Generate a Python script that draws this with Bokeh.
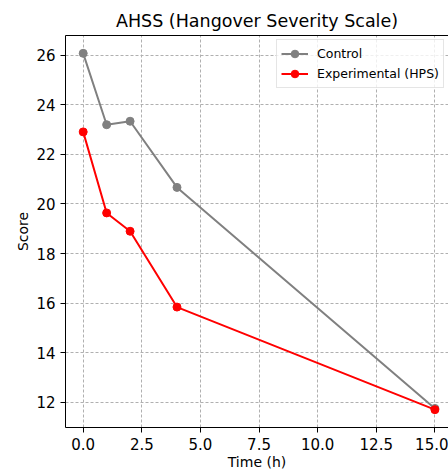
from bokeh.plotting import figure
from bokeh.models import Range1d, FixedTicker, LinearAxis, NumeralTickFormatter, Legend, LegendItem
from bokeh.embed import file_html
from bokeh.resources import INLINE

time_h = [0, 1, 2, 4, 15]
control = [26.08, 23.2, 23.34, 20.67, 11.75]
experimental = [22.91, 19.64, 18.9, 15.84, 11.7]
x_ticks = [0, 2.5, 5, 7.5, 10, 12.5, 15]
y_ticks = [12, 14, 16, 18, 20, 22, 24, 26]

FONT = "DejaVu Sans"

p = figure(width=448, height=472, output_backend="svg", toolbar_location=None,
           x_range=Range1d(-0.755, 15.58), y_range=Range1d(10.98, 26.8),
           min_border_left=65, min_border_right=0, min_border_bottom=0, min_border_top=35,
           title="AHSS (Hangover Severity Scale)")
p.outline_line_color = None
p.background_fill_color = "white"
p.border_fill_color = "white"

p.title.text_font = FONT
p.title.text_font_size = "17.5px"
p.title.text_font_style = "normal"
p.title.text_color = "black"
p.title.align = "center"

xax = p.below[0]
yax = p.left[0]

for ax in (xax, yax):
    ax.major_label_text_font = FONT
    ax.major_label_text_font_size = "15px"
    ax.major_label_text_color = "black"
    ax.axis_label_text_font = FONT
    ax.axis_label_text_font_size = "14px"
    ax.axis_label_text_font_style = "normal"
    ax.axis_label_text_color = "black"
    ax.axis_line_color = "black"
    ax.axis_line_width = 1
    ax.major_tick_line_color = "black"
    ax.major_tick_out = 5
    ax.major_tick_in = 0
    ax.minor_tick_line_color = None
    ax.major_label_standoff = 5

xax.ticker = FixedTicker(ticks=x_ticks)
xax.formatter = NumeralTickFormatter(format="0.0")
xax.axis_label = "Time (h)"
xax.major_label_standoff = 5
xax.axis_label_standoff = 1
yax.ticker = FixedTicker(ticks=y_ticks)
yax.axis_label = "Score"
yax.axis_label_standoff = 2

top_axis = LinearAxis(ticker=FixedTicker(ticks=[]), major_label_text_font_size="0px",
                      major_tick_line_color=None, minor_tick_line_color=None,
                      axis_line_color="black", axis_line_width=1,
                      major_label_standoff=0)
p.add_layout(top_axis, "above")

p.xgrid.ticker = FixedTicker(ticks=x_ticks)
p.ygrid.ticker = FixedTicker(ticks=y_ticks)
p.grid.grid_line_color = "#b0b0b0"
p.grid.grid_line_dash = "3 2"
p.grid.grid_line_width = 1

c_line = p.line(time_h, control, line_color="gray", line_width=2)
c_pts = p.scatter(time_h, control, marker="circle", size=8, fill_color="gray", line_color="gray")
e_line = p.line(time_h, experimental, line_color="red", line_width=2)
e_pts = p.scatter(time_h, experimental, marker="circle", size=8, fill_color="red", line_color="red")

legend = Legend(items=[LegendItem(label="Control", renderers=[c_line, c_pts]),
                       LegendItem(label="Experimental (HPS)", renderers=[e_line, e_pts])],
                location=(211, 339), padding=4, spacing=1,
                glyph_width=27, glyph_height=19, label_height=19, label_standoff=9,
                label_text_font=FONT, label_text_font_size="12.5px", label_text_color="black",
                border_line_color="#cccccc", border_line_width=1,
                background_fill_color="white", background_fill_alpha=0.8)
p.add_layout(legend, "center")

open("out.html", "w").write(file_html(p, INLINE))
